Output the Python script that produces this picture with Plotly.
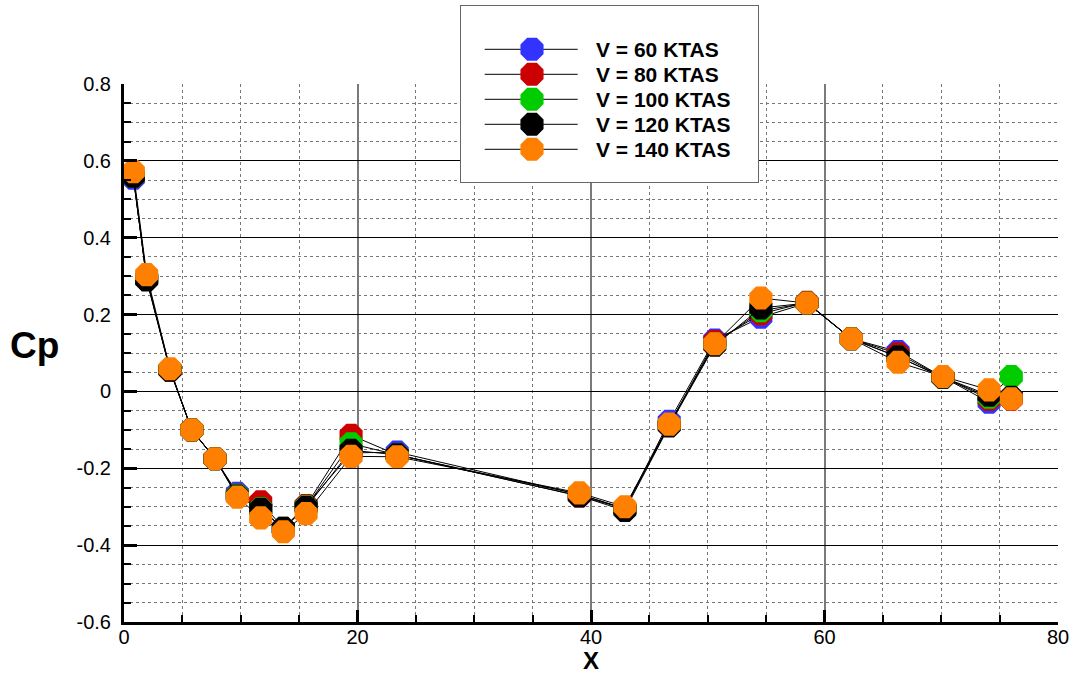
import plotly.graph_objects as go

# ---------------- data ----------------
x_pos = [0.8, 1.94, 3.94, 5.8, 7.8, 9.71, 11.71, 13.65, 15.6, 19.45, 23.4,
         39.0, 42.9, 46.7, 50.6, 54.55, 58.5, 62.3, 66.3, 70.15, 74.1, 76.0]

cp_60 = [0.555, 0.295, 0.057, -0.10, -0.175, -0.265, -0.305, -0.357, -0.297, -0.16, -0.158,
         -0.268, -0.305, -0.078, 0.134, 0.193, 0.23, 0.137, 0.104, 0.037, -0.028, -0.015]
cp_80 = [0.56, 0.292, 0.055, -0.10, -0.175, -0.27, -0.2875, -0.356, -0.297, -0.114, -0.165,
         -0.272, -0.305, -0.087, 0.13, 0.202, 0.232, 0.137, 0.098, 0.037, -0.02, -0.02]
cp_100 = [0.56, 0.295, 0.057, -0.10, -0.175, -0.27, -0.305, -0.357, -0.30, -0.136, -0.165,
          -0.268, -0.305, -0.087, 0.123, 0.21, 0.23, 0.137, 0.09, 0.037, -0.015, 0.039]
cp_120 = [0.56, 0.29, 0.055, -0.10, -0.175, -0.272, -0.307, -0.356, -0.302, -0.153, -0.165,
          -0.272, -0.31, -0.09, 0.12, 0.217, 0.23, 0.137, 0.09, 0.037, -0.01, -0.015]
cp_140 = [0.572, 0.304, 0.059, -0.10, -0.175, -0.275, -0.329, -0.365, -0.318, -0.169, -0.17,
          -0.264, -0.30, -0.085, 0.124, 0.243, 0.23, 0.137, 0.076, 0.039, 0.004, -0.019]

series_names = ["V = 60 KTAS", "V = 80 KTAS", "V = 100 KTAS", "V = 120 KTAS", "V = 140 KTAS"]
series_values = [cp_60, cp_80, cp_100, cp_120, cp_140]
series_colors = ["#3333ff", "#cc0000", "#00cc00", "#000000", "#ff8000"]

x_tickvals = [0, 20, 40, 60, 80]
x_ticktext = ["0", "20", "40", "60", "80"]
y_tickvals = [-0.6, -0.4, -0.2, 0, 0.2, 0.4, 0.6, 0.8]
y_ticktext = ["-0.6", "-0.4", "-0.2", "0", "0.2", "0.4", "0.6", "0.8"]

FONT = "Liberation Sans, Arial, sans-serif"

# ---------------- layout geometry ----------------
W, H = 1073, 675
ML, MR, MT, MB = 124, 15, 5, 53
plot_h = H - MT - MB
main_top_px = 84
main_domain_top = (H - MB - main_top_px) / plot_h
plot_w = W - ML - MR

# legend box in pixels
LB_x0, LB_x1, LB_y0, LB_y1 = 460, 759, 5, 183

fig = go.Figure()

for name, vals, col in zip(series_names, series_values, series_colors):
    fig.add_trace(go.Scatter(
        x=x_pos, y=vals, mode="lines+markers", name=name, showlegend=False,
        line=dict(color="black", width=1),
        marker=dict(symbol="octagon", size=25, color=col, line=dict(width=0)),
        xaxis="x", yaxis="y",
    ))

# custom legend drawn in its own hidden axes
for i, (name, col) in enumerate(zip(series_names, series_colors)):
    ypx = 49.3 + 25 * i
    yy = (LB_y1 - ypx) / (LB_y1 - LB_y0)
    xa = (484.7 - LB_x0) / (LB_x1 - LB_x0)
    xm = (532 - LB_x0) / (LB_x1 - LB_x0)
    xb = (577.7 - LB_x0) / (LB_x1 - LB_x0)
    fig.add_trace(go.Scatter(
        x=[xa, xb], y=[yy, yy], mode="lines", showlegend=False, hoverinfo="skip",
        line=dict(color="black", width=1), xaxis="x2", yaxis="y2"))
    fig.add_trace(go.Scatter(
        x=[xm], y=[yy], mode="markers", showlegend=False, hoverinfo="skip",
        marker=dict(symbol="octagon", size=25, color=col, line=dict(width=0)),
        xaxis="x2", yaxis="y2"))
    fig.add_annotation(
        x=(594 - LB_x0) / (LB_x1 - LB_x0), y=yy, xref="x2", yref="y2",
        text=name, showarrow=False, xanchor="left", yanchor="middle",
        font=dict(family=FONT, size=21, color="black", weight="bold"))

fig.add_shape(type="rect", xref="x2", yref="y2", x0=0, x1=1, y0=0, y1=1,
              line=dict(color="#666666", width=2), fillcolor="white", layer="below")

minor_common = dict(ticks="inside", showgrid=True, griddash="dot",
                    gridcolor="#777777", gridwidth=1, tickcolor="black", tickwidth=2, ticklen=7)

fig.update_layout(
    width=W, height=H,
    margin=dict(l=ML, r=MR, t=MT, b=MB, autoexpand=False),
    paper_bgcolor="white", plot_bgcolor="white",
    font=dict(family=FONT, color="black"),
    showlegend=False,
    xaxis=dict(
        domain=[0, 1], range=[0, 80], anchor="y",
        tickmode="array", tickvals=x_tickvals, ticktext=x_ticktext,
        ticks="inside", ticklen=12, tickwidth=3, tickcolor="black",
        showline=True, linecolor="black", linewidth=3,
        showgrid=True, gridcolor="#7a7a7a", gridwidth=2,
        zeroline=False, tickfont=dict(size=20, family=FONT),
        ticklabelstandoff=-5,
        minor=dict(tickmode="linear", tick0=0, dtick=5, **minor_common),
    ),
    yaxis=dict(
        domain=[0, main_domain_top], range=[-0.6, 0.8], anchor="x",
        tickmode="array", tickvals=y_tickvals, ticktext=y_ticktext,
        ticks="inside", ticklen=13, tickwidth=3, tickcolor="black",
        showline=True, linecolor="black", linewidth=3,
        showgrid=True, gridcolor="black", gridwidth=1,
        zeroline=False, tickfont=dict(size=20, family=FONT),
        ticklabelstandoff=6,
        minor=dict(tickmode="linear", tick0=0, dtick=0.05, **minor_common),
    ),
    xaxis2=dict(domain=[(LB_x0 - ML) / plot_w, (LB_x1 - ML) / plot_w], range=[0, 1],
                anchor="y2", visible=False, fixedrange=True),
    yaxis2=dict(domain=[(H - MB - LB_y1) / plot_h, (H - MB - LB_y0) / plot_h], range=[0, 1],
                anchor="x2", visible=False, fixedrange=True),
)

fig.add_annotation(x=(34.7 - ML) / plot_w, y=(H - MB - 345) / plot_h, xref="paper", yref="paper",
                   text="Cp", showarrow=False, xanchor="center", yanchor="middle",
                   font=dict(family=FONT, size=37, color="black", weight="bold"))
fig.add_annotation(x=(591 - ML) / plot_w, y=(H - MB - 660) / plot_h, xref="paper", yref="paper",
                   text="X", showarrow=False, xanchor="center", yanchor="middle",
                   font=dict(family=FONT, size=24, color="black", weight="bold"))

fig.write_html("out.html", config={"displayModeBar": False},
               post_script="document.body.style.margin='0';document.body.style.overflow='hidden';")
